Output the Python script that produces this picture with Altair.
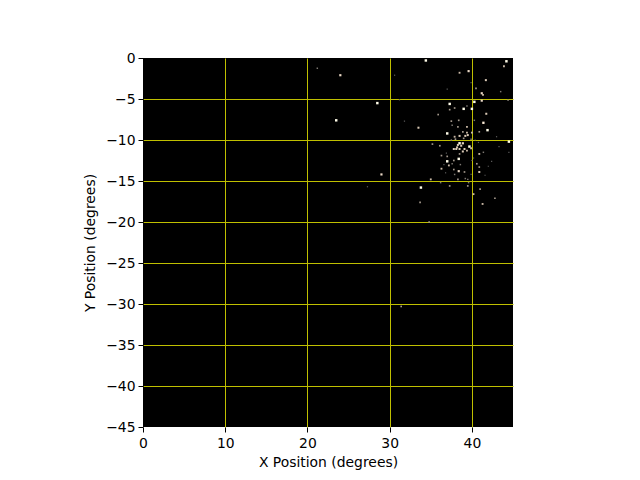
import altair as alt
import pandas as pd

x_pos = [34.4,44.2,43.9,39.6,38.5,30.6,24.0,21.2,41.7,40.5,41.2,41.35,43.5,31.2,44.4,37.3,40.3,41.2,37.9,39.0,40.0,39.4,37.3,35.9,41.75,40.3,41.4,37.5,38.4,33.5,38.3,39.4,41.9,40.9,37.0,28.5,23.5,31.8,40.0,39.4,37.9,38.5,39.2,39.5,36.1,35.2,38.5,38.9,38.3,38.2,38.7,39.7,39.1,37.8,38.1,38.5,39.4,39.9,38.9,40.9,41.4,36.3,37.0,38.5,38.4,37.0,37.8,36.3,37.2,38.4,37.8,39.1,40.6,40.9,40.9,37.9,35.0,38.3,37.3,39.2,39.5,36.2,39.6,39.5,40.2,41.0,41.3,42.8,33.8,33.7,29.0,27.3,31.4,34.8,44.5,
         39.0,37.5,38.0,39.9,40.4,38.9,37.6,36.9,37.6,38.6,40.2,40.8,42.4,42.0,36.6,36.8,39.9,40.0,41.6,43.0,43.3,44.5,39.9,37.0]
y_pos = [-0.3,-0.4,-1.0,-1.6,-1.8,-2.1,-2.1,-1.25,-2.7,-3.7,-4.3,-4.5,-4.1,-5.1,-5.15,-5.6,-5.35,-5.2,-6.1,-6.2,-6.2,-5.85,-6.3,-6.9,-6.8,-7.6,-7.9,-7.7,-7.6,-8.5,-8.4,-8.4,-8.8,-9.0,-9.2,-5.5,-7.6,-7.7,-9.1,-9.1,-9.6,-9.5,-9.5,-9.4,-10.7,-10.5,-10.4,-10.4,-10.6,-10.9,-10.7,-10.8,-11.1,-11.1,-11.1,-11.1,-11.3,-11.0,-11.4,-11.7,-11.5,-11.9,-12.0,-11.7,-12.3,-12.6,-12.5,-13.5,-13.1,-13.8,-13.6,-13.9,-12.9,-13.3,-13.9,-14.2,-14.8,-14.8,-15.6,-14.7,-14.8,-15.2,-15.2,-15.6,-16.6,-16.0,-17.8,-17.1,-15.8,-17.6,-14.2,-15.7,-30.3,-20.0,-10.2,
         -9.8,-10.0,-9.9,-9.9,-10.0,-9.0,-8.2,-11.6,-12.9,-13.0,-12.2,-10.3,-12.6,-13.2,-13.0,-14.0,-14.2,-12.5,-14.3,-9.6,-10.8,-11.5,-3.0,-3.8]
brightness = [1,1,.6,.8,.6,.3,.8,.4,.7,.5,.8,.6,.4,.3,.4,1,1,.8,.5,1,1,.4,.5,.5,.7,.4,.9,.5,.5,.7,.5,.6,1,.5,1,1,1,.3,.6,.6,.6,.7,.7,.7,.5,.5,1,.8,.7,.7,.7,1,.7,.7,.7,.7,.6,.6,.7,.6,.4,.5,.5,.5,1,1,.5,.6,.6,.8,.5,.5,.5,.5,.7,.4,.6,.5,.5,.4,.4,.4,.4,.5,.6,.5,.6,.5,1,.5,.8,.3,.5,.5,1,
              .5,.4,.5,.4,.3,.5,.4,.3,.4,.4,.3,.3,.3,.3,.3,.3,.3,.3,.3,.3,.3,.3,.3,.3]

x_ticks = [0,10,20,30,40]
y_ticks = [0,-5,-10,-15,-20,-25,-30,-35,-40,-45]

df = pd.DataFrame({"x": x_pos, "y": y_pos, "b": brightness})

edge_hidden = {"condition": {"test": "datum.value == 0 || datum.value == -45", "value": 0}, "value": 1}

chart = (
    alt.Chart(df)
    .mark_square(strokeWidth=0, opacity=1, clip=True)
    .encode(
        x=alt.X("x:Q", scale=alt.Scale(domain=[0,45], nice=False, zero=False),
                axis=alt.Axis(values=x_ticks, title="X Position (degrees)", grid=True, format="d", gridOpacity=edge_hidden)),
        y=alt.Y("y:Q", scale=alt.Scale(domain=[-45,0], nice=False, zero=False),
                axis=alt.Axis(values=y_ticks, title="Y Position (degrees)", grid=True, format="d", gridOpacity=edge_hidden)),
        color=alt.Color("b:Q", legend=None,
                        scale=alt.Scale(domain=[0.3,0.6,1], range=["#5a5a5a","#c9b8a5","#ffffff"])),
        size=alt.Size("b:Q", legend=None,
                      scale=alt.Scale(domain=[0.3,1], range=[1.5,6])),
    )
    .properties(
        width=370, height=369,
        autosize=alt.AutoSizeParams(type="none"),
        padding={"left":135,"top":50,"right":117,"bottom":45},
        background="white",
    )
    .configure_view(fill="black", stroke=None)
    .configure_axis(
        zindex=1,
        gridColor="#bfbf00", gridWidth=1,
        domain=False,
        tickColor="black", tickSize=5, tickWidth=1,
        labelFont="DejaVu Sans", labelFontSize=13.9, labelColor="black", labelPadding=3,
        titleFont="DejaVu Sans", titleFontSize=13.9, titleFontWeight="normal", titleColor="black",
        labelFlush=False, labelOverlap=False,
    )
    .configure_axisX(labelPadding=4, titlePadding=6)
    .configure_axisY(titlePadding=8)
)

chart.save("out.html", embed_options={"renderer": "svg", "actions": False})
